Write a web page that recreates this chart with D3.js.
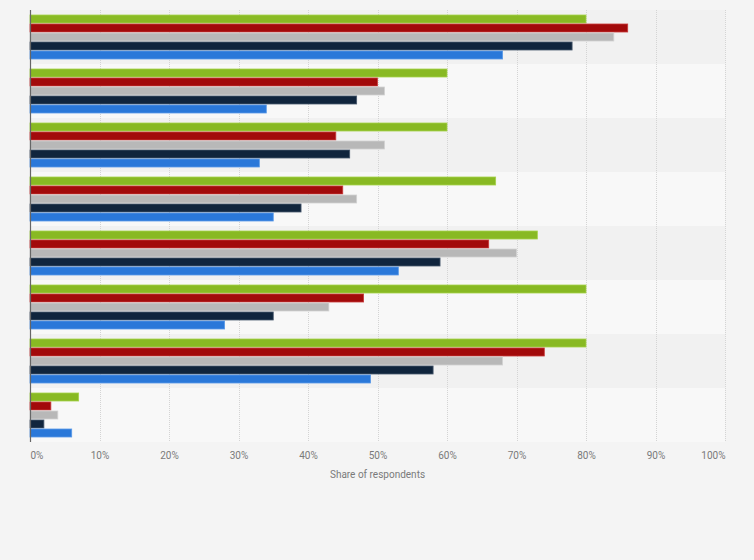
<!DOCTYPE html>
<html>
<head>
<meta charset="utf-8">
<script src="https://cdn.jsdelivr.net/npm/d3@7"></script>
<style>
html,body{margin:0;padding:0;background:#f4f4f4;}
svg{display:block;}
</style>
</head>
<body>
<svg id="chart" width="754" height="560"></svg>
<script>
const categories = ["Group 1","Group 2","Group 3","Group 4","Group 5","Group 6","Group 7","Group 8"];
const seriesNames = ["Series A","Series B","Series C","Series D","Series E"];
const seriesColors = ["#88b923","#a20a0b","#b8b8b8","#10253d","#2a78d9"];
const seriesStroke = ["#a6d24a","#c83a3a","#d2d2d2","#4a5a6e","#5a9ae8"];
const seriesA = [80,60,60,67,73,80,80,7];
const seriesB = [86,50,44,45,66,48,74,3];
const seriesC = [84,51,51,47,70,43,68,4];
const seriesD = [78,47,46,39,59,35,58,2];
const seriesE = [68,34,33,35,53,28,49,6];
const seriesValues = [seriesA,seriesB,seriesC,seriesD,seriesE];
const tickValues = [0,10,20,30,40,50,60,70,80,90,100];
const tickLabels = ["0%","10%","20%","30%","40%","50%","60%","70%","80%","90%","100%"];
const axisTitle = "Share of respondents";

(function(){
const svg = d3.select("#chart");
const mLeft = 30, mRight = 725, mTop = 10, mBottom = 442;

const x = d3.scaleLinear().domain([0,100]).range([mLeft,mRight]);
const y = d3.scaleBand().domain(categories).range([mTop,mBottom]).paddingInner(0).paddingOuter(0);
const inner = d3.scaleBand().domain(seriesNames).range([4.5, y.bandwidth()-4.5]).padding(0);

// alternating band backgrounds
svg.append("g").selectAll("rect").data(categories).join("rect")
  .attr("x", mLeft).attr("y", d => y(d))
  .attr("width", mRight-mLeft).attr("height", y.bandwidth())
  .attr("fill", (d,i) => i%2===0 ? "#f1f1f1" : "#f8f8f8");

// gridlines
svg.append("g").selectAll("line").data(tickValues.slice(1)).join("line")
  .attr("x1", d => Math.round(x(d))+0.5).attr("x2", d => Math.round(x(d))+0.5)
  .attr("y1", mTop).attr("y2", mBottom)
  .attr("stroke", "#d4d4d4").attr("stroke-width", 1)
  .attr("stroke-dasharray", "1,1");

// bars
const groups = svg.append("g").selectAll("g").data(categories).join("g")
  .attr("transform", d => `translate(0,${y(d)})`);
groups.selectAll("rect").data((c,ci) => seriesNames.map((s,si) => ({s, si, v: seriesValues[si][ci]})))
  .join("rect")
  .attr("x", x(0))
  .attr("y", d => inner(d.s)+0.5)
  .attr("width", d => x(d.v)-x(0))
  .attr("height", inner.bandwidth()-1)
  .attr("fill", d => seriesColors[d.si])
  .attr("stroke", d => seriesStroke[d.si])
  .attr("stroke-width", 0.8);

// axis line
svg.append("line").attr("x1", mLeft+0.5).attr("x2", mLeft+0.5)
  .attr("y1", mTop).attr("y2", mBottom)
  .attr("stroke", "#666").attr("stroke-width", 1.2);

// x axis labels
const xAxis = d3.axisBottom(x).tickValues(tickValues)
  .tickFormat((d,i) => tickLabels[i]).tickSize(0).tickPadding(0);
const ax = svg.append("g").attr("transform", `translate(0,452)`).call(xAxis);
ax.select(".domain").remove();
ax.selectAll("text")
  .attr("font-family", "Roboto, 'Noto Sans', sans-serif")
  .attr("font-size", 10)
  .attr("fill", "#7a7a7a")
  .attr("dy", "0.71em")
  .attr("text-anchor", (d,i) => i===0 ? "start" : (i===tickValues.length-1 ? "end" : "middle"));

svg.append("text").attr("x", (mLeft+mRight)/2).attr("y", 478)
  .attr("text-anchor", "middle")
  .attr("font-family", "Roboto, 'Noto Sans', sans-serif")
  .attr("font-size", 10).attr("fill", "#7a7a7a")
  .text(axisTitle);
})();
</script>
</body>
</html>
